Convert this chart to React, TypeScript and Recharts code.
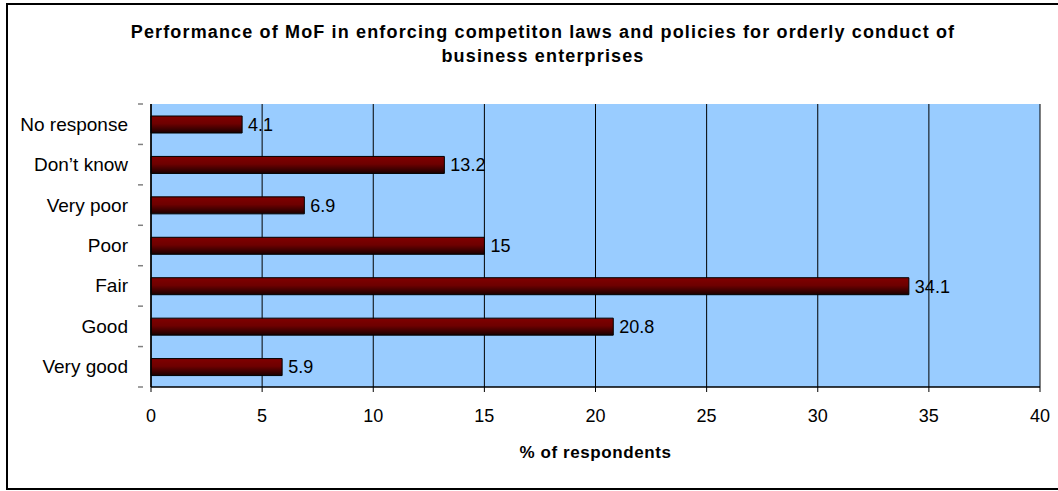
import React from "react";
import {
  BarChart,
  Bar,
  XAxis,
  YAxis,
  CartesianGrid,
  LabelList,
} from "recharts";

const categories = [
  "No response",
  "Don\u2019t know",
  "Very poor",
  "Poor",
  "Fair",
  "Good",
  "Very good",
];
const values = [4.1, 13.2, 6.9, 15, 34.1, 20.8, 5.9];
const xTicks = [0, 5, 10, 15, 20, 25, 30, 35, 40];
const titleLines = [
  "Performance of MoF in enforcing competiton laws and policies for orderly conduct of",
  "business enterprises",
];
const xAxisTitle = "% of respondents";

const data = categories.map((c, i) => ({ label: c, value: values[i] }));

const W = 1058;
const H = 491;
const M = { top: 104, right: 18, bottom: 74, left: 0 };
const Y_W = 151;
const X_H = 30;
const BAND = (H - M.top - M.bottom - X_H) / categories.length;
const FONT = "'Liberation Sans', Arial, sans-serif";

const YTick = (props: any) => {
  const { x, y, payload, index } = props;
  const axisX = x + 0;
  return (
    <g>
      <text
        x={x - 15}
        y={y}
        textAnchor="end"
        dominantBaseline="central"
        fontSize={19}
        fontFamily={FONT}
        fill="#000"
      >
        {payload.value}
      </text>
      <line
        x1={axisX - 5}
        x2={axisX}
        y1={y + BAND / 2}
        y2={y + BAND / 2}
        stroke="#808080"
        strokeWidth={1.5}
      />
      {index === 0 && (
        <line
          x1={axisX - 5}
          x2={axisX}
          y1={y - BAND / 2}
          y2={y - BAND / 2}
          stroke="#808080"
          strokeWidth={1.5}
        />
      )}
    </g>
  );
};

export default function App() {
  return (
    <div
      style={{
        position: "absolute",
        left: 0,
        top: 0,
        width: W,
        height: H,
        background: "#fff",
        overflow: "hidden",
        fontFamily: FONT,
      }}
    >
      <div
        style={{
          position: "absolute",
          left: 6,
          top: 3,
          width: W + 10,
          height: 487,
          border: "2px solid #000",
          boxSizing: "border-box",
        }}
      />
      <div
        style={{
          position: "absolute",
          left: 0,
          top: 20,
          width: 1086,
          textAlign: "center",
          fontWeight: "bold",
          fontSize: 18,
          letterSpacing: "1.15px",
          lineHeight: "24px",
          color: "#000",
        }}
      >
        {titleLines.map((t) => (
          <div key={t}>{t}</div>
        ))}
      </div>
      <div
        style={{
          position: "absolute",
          left: 151,
          top: 442,
          width: 889,
          textAlign: "center",
          fontWeight: "bold",
          fontSize: 17,
          letterSpacing: "0.6px",
          lineHeight: "22px",
          color: "#000",
        }}
      >
        {xAxisTitle}
      </div>
      <div style={{ position: "absolute", left: 0, top: 0 }}>
        <BarChart
          width={W}
          height={H}
          data={data}
          layout="vertical"
          margin={M}
        >
          <defs>
            <linearGradient id="barGrad" x1="0" y1="0" x2="0" y2="1">
              <stop offset="0%" stopColor="#800000" />
              <stop offset="45%" stopColor="#6e0000" />
              <stop offset="100%" stopColor="#1a0000" />
            </linearGradient>
          </defs>
          <CartesianGrid
            horizontal={false}
            vertical={true}
            fill="#99CCFF"
            fillOpacity={1}
            stroke="#000"
            strokeWidth={1}
          />
          <XAxis
            type="number"
            domain={[0, 40]}
            ticks={xTicks}
            interval={0}
            height={X_H}
            axisLine={{ stroke: "#000", strokeWidth: 1.5 }}
            tickLine={{ stroke: "#000" }}
            tickSize={5}
            tickMargin={17}
            tick={{ fontSize: 18, fill: "#000", fontFamily: FONT }}
          />
          <XAxis
            xAxisId="top"
            orientation="top"
            type="number"
            domain={[0, 40]}
            height={0}
            tick={false}
            tickLine={false}
            axisLine={{ stroke: "#808080", strokeWidth: 2 }}
          />
          <YAxis
            type="category"
            dataKey="label"
            width={Y_W}
            axisLine={{ stroke: "#000", strokeWidth: 1.5 }}
            tickLine={false}
            tick={<YTick />}
            interval={0}
          />
          <YAxis
            yAxisId="right"
            orientation="right"
            type="category"
            dataKey="label"
            width={0}
            tick={false}
            tickLine={false}
            axisLine={{ stroke: "#808080", strokeWidth: 2 }}
          />
          <Bar
            dataKey="value"
            fill="url(#barGrad)"
            stroke="#000"
            strokeWidth={1}
            barSize={17}
            isAnimationActive={false}
          >
            <LabelList
              dataKey="value"
              position="right"
              offset={6}
              fontSize={18}
              fill="#000"
              fontFamily={FONT}
            />
          </Bar>
        </BarChart>
      </div>
    </div>
  );
}
